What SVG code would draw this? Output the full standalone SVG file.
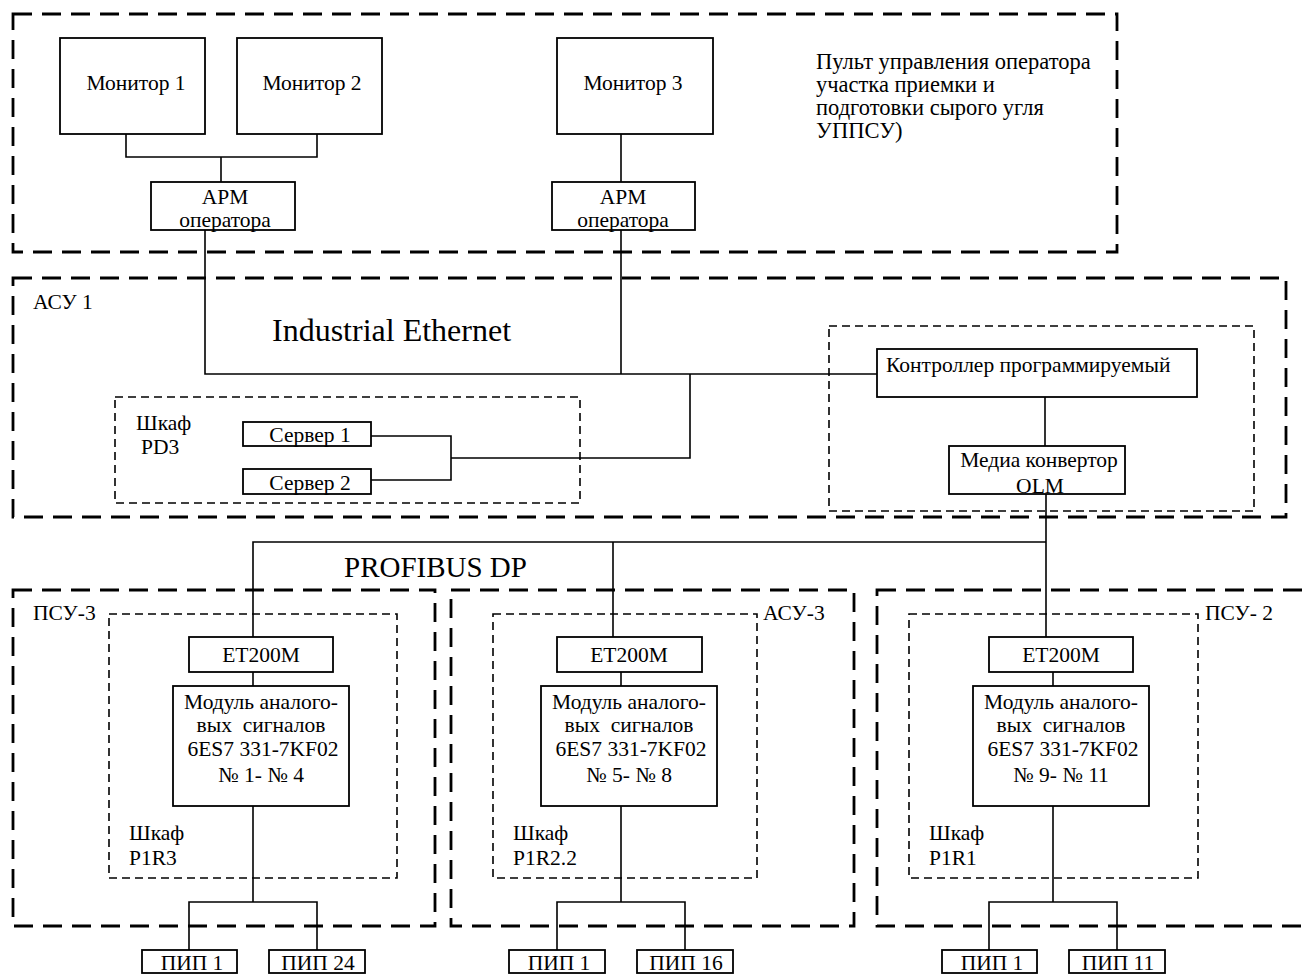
<svg xmlns="http://www.w3.org/2000/svg" width="1305" height="974" viewBox="0 0 1305 974">
<style>
text{font-family:"Liberation Serif","Times New Roman",serif;font-size:21.5px;fill:#000}
.c{text-anchor:middle}
.box{fill:#fff;stroke:#000;stroke-width:1.8}
.zone{fill:none;stroke:#000;stroke-width:2.8;stroke-dasharray:19 10}
.cab{fill:none;stroke:#000;stroke-width:1.6;stroke-dasharray:8 5}
.ln{fill:none;stroke:#000;stroke-width:1.6}
</style>
<rect width="1305" height="974" fill="#fff"/>
<g id="zones">
<rect id="zone-pult" class="zone" x="13" y="14" width="1104" height="238"/>
<rect id="zone-asu1" class="zone" x="13" y="278" width="1273" height="239"/>
<rect id="zone-psu3" class="zone" x="13" y="590" width="422" height="336"/>
<rect id="zone-asu3" class="zone" x="451" y="590" width="403" height="336"/>
<rect id="zone-psu2" class="zone" x="877" y="590" width="450" height="336"/>
<rect id="cab-pd3" class="cab" x="115" y="397" width="465" height="106"/>
<rect id="cab-ctrl" class="cab" x="829" y="326" width="425" height="185"/>
<rect id="cab-p1r3" class="cab" x="109" y="614" width="288" height="264"/>
<rect id="cab-p1r22" class="cab" x="493" y="614" width="264" height="264"/>
<rect id="cab-p1r1" class="cab" x="909" y="614" width="289" height="264"/>
<text x="816" y="69" style="font-size:22.5px">Пульт управления оператора</text>
<text x="816" y="92" style="font-size:22.5px">участка приемки и</text>
<text x="816" y="115" style="font-size:22.5px">подготовки сырого угля</text>
<text x="816" y="138" style="font-size:22.5px">УППСУ)</text>
<text x="33" y="309">АСУ 1</text>
<text x="272" y="341" style="font-size:32px">Industrial Ethernet</text>
<text x="136" y="430">Шкаф</text>
<text x="141" y="454">PD3</text>
<text x="344" y="577" style="font-size:29px">PROFIBUS DP</text>
<text x="33" y="620">ПСУ-3</text>
<text x="763" y="620">АСУ-3</text>
<text x="1205" y="620">ПСУ- 2</text>
<text x="129" y="840">Шкаф</text>
<text x="129" y="865">P1R3</text>
<text x="513" y="840">Шкаф</text>
<text x="513" y="865">P1R2.2</text>
<text x="929" y="840">Шкаф</text>
<text x="929" y="865">P1R1</text>
</g>
<g id="connectors">
<polyline class="ln" points="126,134 126,157 317,157 317,134"/>
<line class="ln" x1="221" y1="157" x2="221" y2="182"/>
<line class="ln" x1="621" y1="134" x2="621" y2="182"/>
<polyline class="ln" points="205,230 205,374 877,374"/>
<line class="ln" x1="621" y1="230" x2="621" y2="374"/>
<polyline class="ln" points="371,436 451,436 451,480 371,480"/>
<polyline class="ln" points="451,458 690,458 690,374"/>
<line class="ln" x1="1045" y1="397" x2="1045" y2="446"/>
<line class="ln" x1="1046" y1="494" x2="1046" y2="637"/>
<polyline class="ln" points="253,637 253,542 1046,542"/>
<line class="ln" x1="613" y1="542" x2="613" y2="637"/>
<line class="ln" x1="253" y1="672" x2="253" y2="686"/>
<line class="ln" x1="621" y1="672" x2="621" y2="686"/>
<line class="ln" x1="1053" y1="662" x2="1053" y2="686"/>
<line class="ln" x1="253" y1="806" x2="253" y2="902"/>
<polyline class="ln" points="189,950 189,902 317,902 317,950"/>
<line class="ln" x1="621" y1="806" x2="621" y2="902"/>
<polyline class="ln" points="557,950 557,902 685,902 685,950"/>
<line class="ln" x1="1053" y1="806" x2="1053" y2="902"/>
<polyline class="ln" points="989,950 989,902 1117,902 1117,950"/>
</g>
<g id="monitor1"><rect class="box" x="60" y="38" width="145" height="96"/><text class="c" x="136" y="90">Монитор 1</text></g>
<g id="monitor2"><rect class="box" x="237" y="38" width="145" height="96"/><text class="c" x="312" y="90">Монитор 2</text></g>
<g id="monitor3"><rect class="box" x="557" y="38" width="156" height="96"/><text class="c" x="633" y="90">Монитор 3</text></g>
<g id="arm1"><rect class="box" x="151" y="182" width="144" height="48"/><text class="c" x="225" y="204">АРМ</text><text class="c" x="225" y="227">оператора</text></g>
<g id="arm2"><rect class="box" x="552" y="182" width="143" height="48"/><text class="c" x="623" y="204">АРМ</text><text class="c" x="623" y="227">оператора</text></g>
<g id="server1"><rect class="box" x="243" y="422" width="128" height="24"/><text class="c" x="310" y="442">Сервер 1</text></g>
<g id="server2"><rect class="box" x="243" y="469" width="128" height="25"/><text class="c" x="310" y="490">Сервер 2</text></g>
<g id="controller"><rect class="box" x="877" y="349" width="320" height="48"/><text x="886" y="372">Контроллер программируемый</text></g>
<g id="media"><rect class="box" x="949" y="446" width="176" height="48"/><text class="c" x="1039" y="467">Медиа конвертор</text><text class="c" x="1040" y="493">OLM</text></g>
<g id="et200m-1"><rect class="box" x="189" y="637" width="144" height="35"/><text class="c" x="261" y="662">ET200M</text></g>
<g id="et200m-2"><rect class="box" x="557" y="637" width="145" height="35"/><text class="c" x="629" y="662">ET200M</text></g>
<g id="et200m-3"><rect class="box" x="989" y="637" width="144" height="35"/><text class="c" x="1061" y="662">ET200M</text></g>
<g id="module-1"><rect class="box" x="173" y="686" width="176" height="120"/>
<text class="c" x="261" y="709">Модуль аналого-</text><text class="c" x="261" y="732" xml:space="preserve">вых  сигналов</text><text class="c" x="263" y="756">6ES7 331-7KF02</text><text class="c" x="261" y="782">№ 1- № 4</text></g>
<g id="module-2"><rect class="box" x="541" y="686" width="176" height="120"/>
<text class="c" x="629" y="709">Модуль аналого-</text><text class="c" x="629" y="732" xml:space="preserve">вых  сигналов</text><text class="c" x="631" y="756">6ES7 331-7KF02</text><text class="c" x="629" y="782">№ 5- № 8</text></g>
<g id="module-3"><rect class="box" x="973" y="686" width="176" height="120"/>
<text class="c" x="1061" y="709">Модуль аналого-</text><text class="c" x="1061" y="732" xml:space="preserve">вых  сигналов</text><text class="c" x="1063" y="756">6ES7 331-7KF02</text><text class="c" x="1061" y="782">№ 9- № 11</text></g>
<g id="pip-1-1"><rect class="box" x="142" y="950" width="95" height="23"/><text class="c" x="192" y="970">ПИП 1</text></g>
<g id="pip-1-24"><rect class="box" x="269" y="950" width="96" height="23"/><text class="c" x="318" y="970">ПИП 24</text></g>
<g id="pip-2-1"><rect class="box" x="509" y="950" width="96" height="23"/><text class="c" x="559" y="970">ПИП 1</text></g>
<g id="pip-2-16"><rect class="box" x="637" y="950" width="96" height="23"/><text class="c" x="686" y="970">ПИП 16</text></g>
<g id="pip-3-1"><rect class="box" x="942" y="950" width="95" height="23"/><text class="c" x="992" y="970">ПИП 1</text></g>
<g id="pip-3-11"><rect class="box" x="1069" y="950" width="96" height="23"/><text class="c" x="1118" y="970">ПИП 11</text></g>
</svg>
